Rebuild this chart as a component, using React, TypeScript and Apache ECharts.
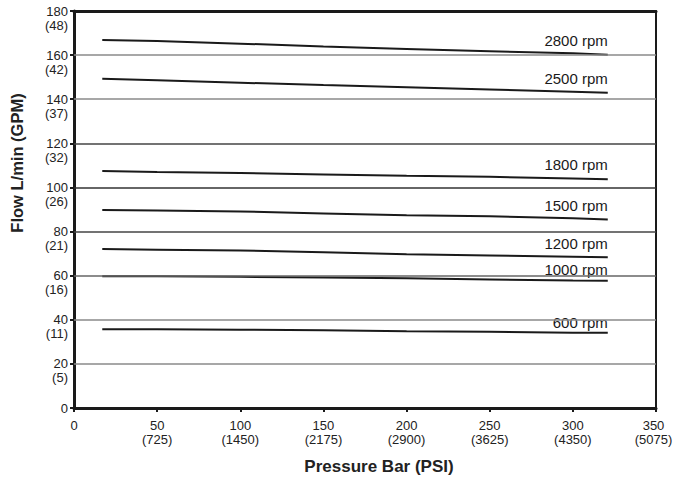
import React, { useEffect, useRef } from "react";
import * as echarts from "echarts";

const pressureBar = [17, 50, 100, 150, 200, 250, 300, 321];
const flow2800 = [166.8, 166.45, 165.2, 163.9, 162.8, 161.8, 160.8, 160.2];
const flow2500 = [149.3, 148.6, 147.5, 146.4, 145.4, 144.4, 143.4, 142.9];
const flow1800 = [107.4, 107.0, 106.5, 105.9, 105.3, 104.8, 104.1, 103.7];
const flow1500 = [89.8, 89.6, 89.1, 88.2, 87.4, 86.9, 86.0, 85.5];
const flow1200 = [72.1, 71.8, 71.4, 70.6, 69.7, 69.2, 68.6, 68.3];
const flow1000 = [59.7, 59.7, 59.5, 59.2, 58.8, 58.3, 57.8, 57.7];
const flow600 = [35.7, 35.7, 35.5, 35.2, 34.8, 34.6, 34.1, 34.1];

const seriesNames = ["2800 rpm", "2500 rpm", "1800 rpm", "1500 rpm", "1200 rpm", "1000 rpm", "600 rpm"];
const seriesValues = [flow2800, flow2500, flow1800, flow1500, flow1200, flow1000, flow600];
const labelLift = [-14.5, -14.5, -15, -13.5, -13.5, -11, -10];

const yTicks = [0, 20, 40, 60, 80, 100, 120, 140, 160, 180];
const yGpm = ["", "(5)", "(11)", "(16)", "(21)", "(26)", "(32)", "(37)", "(42)", "(48)"];
const xTicks = [0, 50, 100, 150, 200, 250, 300, 350];
const xPsi = ["", "(725)", "(1450)", "(2175)", "(2900)", "(3625)", "(4350)", "(5075)"];

const gridValues = [20, 40, 60, 80, 100, 120, 140, 160];
const gridColors = ["#8a8a8a", "#8a8a8a", "#666", "#444", "#333", "#444", "#8a8a8a", "#8a8a8a"];

const FONT = "'Liberation Sans', Arial, Helvetica, sans-serif";

export default function App() {
  const ref = useRef<HTMLDivElement>(null);
  useEffect(() => {
    if (!ref.current) return;
    const chart = echarts.init(ref.current, undefined, { renderer: "svg" });
    const lineSeries = seriesNames.map((name, si) => ({
      type: "line",
      name,
      xAxisIndex: 0,
      yAxisIndex: 0,
      symbol: "circle",
      symbolSize: 0,
      showSymbol: true,
      silent: true,
      itemStyle: { color: "#1a1a1a" },
      lineStyle: { color: "#1a1a1a", width: 2 },
      label: { show: false },
      data: pressureBar.map((p, i) => {
        const item: any = { value: [p, seriesValues[si][i]] };
        if (i === pressureBar.length - 1) {
          item.label = {
            show: true,
            position: "left",
            distance: 5,
            offset: [5, labelLift[si]],
            formatter: name,
            fontFamily: FONT,
            fontSize: 15,
            color: "#1a1a1a",
          };
        }
        return item;
      }),
      z: 3,
    }));
    const option: any = {
      animation: false,
      textStyle: { fontFamily: FONT },
      grid: { left: 74, right: 17, top: 11, bottom: 70, show: false, outerBoundsMode: "none", containLabel: false },
      xAxis: [
        {
          type: "value",
          min: 0,
          max: 350,
          interval: 50,
          axisLine: { show: true, onZero: false, lineStyle: { color: "#1a1a1a", width: 3 } },
          axisTick: { show: true, length: 4, lineStyle: { color: "#1a1a1a", width: 2 } },
          splitLine: { show: false },
          axisLabel: {
            margin: 10,
            fontFamily: FONT,
            fontSize: 13,
            color: "#222",
            lineHeight: 14,
            rich: {
              e: { fontFamily: FONT, fontSize: 13, color: "#222", lineHeight: 14, padding: [0, 5, 0, 0] },
            },
            formatter: (v: number) => {
              const i = xTicks.indexOf(v);
              const second = i >= 0 && xPsi[i] ? xPsi[i] : " ";
              if (i === xTicks.length - 1) return `{e|${v}}\n{e|${second}}`;
              return `${v}\n${second}`;
            },
          },
        },
        {
          type: "value",
          position: "top",
          min: 0,
          max: 350,
          interval: 50,
          axisLine: { show: true, onZero: false, lineStyle: { color: "#1a1a1a", width: 3 } },
          axisTick: { show: false },
          axisLabel: { show: false },
          splitLine: { show: false },
        },
      ],
      yAxis: [
        {
          type: "value",
          min: 0,
          max: 180,
          interval: 20,
          axisLine: { show: true, onZero: false, lineStyle: { color: "#1a1a1a", width: 3 } },
          axisTick: { show: true, length: 4, lineStyle: { color: "#1a1a1a", width: 2 } },
          splitLine: { show: false },
          axisLabel: {
            margin: 6,
            fontFamily: FONT,
            fontSize: 13,
            color: "#222",
            lineHeight: 14,
            formatter: (v: number) => {
              const i = yTicks.indexOf(v);
              return ` \n${v}\n${i >= 0 && yGpm[i] ? yGpm[i] : " "}`;
            },
          },
        },
        {
          type: "value",
          position: "right",
          min: 0,
          max: 180,
          interval: 20,
          axisLine: { show: true, onZero: false, lineStyle: { color: "#1a1a1a", width: 2 } },
          axisTick: { show: false },
          axisLabel: { show: false },
          splitLine: { show: false },
        },
      ],
      series: [
        {
          type: "line",
          data: [],
          silent: true,
          markLine: {
            silent: true,
            symbol: "none",
            label: { show: false },
            data: gridValues.map((v, i) => ({
              yAxis: v,
              lineStyle: { color: gridColors[i], width: 1.5, type: "solid" },
            })),
          },
          z: 1,
        },
        ...lineSeries,
      ],
      graphic: [
        {
          type: "text",
          x: 17,
          y: 163,
          rotation: Math.PI / 2,
          style: {
            text: "Flow L/min (GPM)",
            fontFamily: FONT,
            fontSize: 16.5,
            fontWeight: "bold",
            fill: "#222",
            align: "center",
            verticalAlign: "middle",
          },
        },
        {
          type: "text",
          x: 379,
          y: 466,
          style: {
            text: "Pressure Bar (PSI)",
            fontFamily: FONT,
            fontSize: 17,
            fontWeight: "bold",
            fill: "#222",
            align: "center",
            verticalAlign: "middle",
          },
        },
      ],
    };
    chart.setOption(option);
    return () => chart.dispose();
  }, []);
  return <div ref={ref} style={{ width: 673, height: 478, position: "absolute", left: 0, top: 0 }} />;
}
